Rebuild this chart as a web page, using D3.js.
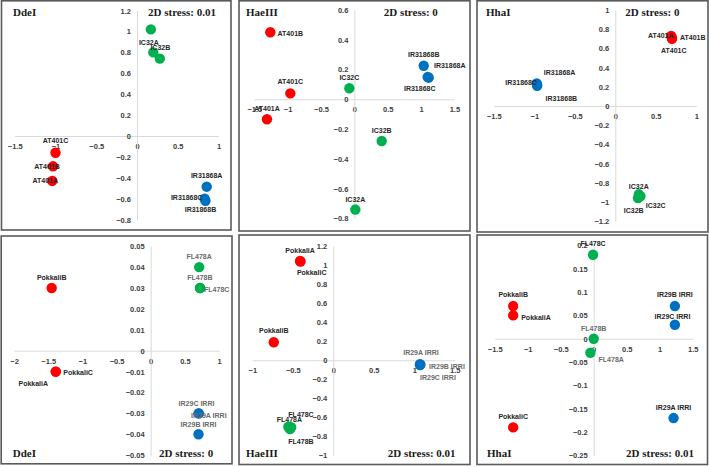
<!DOCTYPE html>
<html>
<head>
<meta charset="utf-8">
<script src="https://cdn.jsdelivr.net/npm/d3@7"></script>
<style>
  html, body { margin: 0; padding: 0; background: #fff; }
  svg { display: block; }
</style>
</head>
<body>
<svg id="chart" width="709" height="467"></svg>
<script>
// ---------------- DATA ----------------
const panelTitles = ["DdeI", "HaeIII", "HhaI", "DdeI", "HaeIII", "HhaI"];
const stressLabels = ["2D stress: 0.01", "2D stress: 0", "2D stress: 0", "2D stress: 0", "2D stress: 0.01", "2D stress: 0.01"];

const xTicks1 = [-1.5, -1, -0.5, 0, 0.5, 1];
const yTicks1 = [-0.8, -0.6, -0.4, -0.2, 0, 0.2, 0.4, 0.6, 0.8, 1, 1.2];
const xTicks2 = [-1.5, -1, -0.5, 0, 0.5, 1, 1.5];
const yTicks2 = [-0.8, -0.6, -0.4, -0.2, 0, 0.2, 0.4, 0.6];
const xTicks3 = [-1.5, -1, -0.5, 0, 0.5, 1];
const yTicks3 = [-1.2, -1, -0.8, -0.6, -0.4, -0.2, 0, 0.2, 0.4, 0.6, 0.8, 1];
const xTicks4 = [-2, -1.5, -1, -0.5, 0, 0.5, 1];
const yTicks4 = [-0.05, -0.04, -0.03, -0.02, -0.01, 0, 0.01, 0.02, 0.03, 0.04, 0.05];
const xTicks5 = [-1, -0.5, 0, 0.5, 1, 1.5];
const yTicks5 = [-1, -0.8, -0.6, -0.4, -0.2, 0, 0.2, 0.4, 0.6, 0.8, 1, 1.2];
const xTicks6 = [-1.5, -1, -0.5, 0, 0.5, 1, 1.5];
const yTicks6 = [-0.25, -0.2, -0.15, -0.1, -0.05, 0, 0.05, 0.1, 0.15, 0.2];

// points: [label, group, x, y]
const points1 = [
  ["IC32A", "g", 0.17, 1.02], ["IC32B", "g", 0.20, 0.80], ["IC32C", "g", 0.28, 0.74],
  ["AT401C", "r", -1.00, -0.16], ["AT401B", "r", -1.03, -0.29], ["AT401A", "r", -1.04, -0.43],
  ["IR31868A", "b", 0.855, -0.485], ["IR31868C", "b", 0.83, -0.60], ["IR31868B", "b", 0.84, -0.62]
];
const points2 = [
  ["AT401B", "r", -1.26, 0.45], ["AT401C", "r", -0.96, 0.04], ["AT401A", "r", -1.31, -0.134],
  ["IC32C", "g", -0.075, 0.074], ["IC32B", "g", 0.41, -0.28], ["IC32A", "g", 0.015, -0.74],
  ["IR31868B", "b", 1.04, 0.225], ["IR31868A", "b", 1.115, 0.145], ["IR31868C", "b", 1.10, 0.15]
];
const points3 = [
  ["AT401A", "r", 0.69, 0.73], ["AT401B", "r", 0.70, 0.71], ["AT401C", "r", 0.70, 0.70],
  ["IR31868A", "b", -0.97, 0.235], ["IR31868C", "b", -0.965, 0.22], ["IR31868B", "b", -0.965, 0.21],
  ["IC32A", "g", 0.29, -0.92], ["IC32C", "g", 0.31, -0.94], ["IC32B", "g", 0.28, -0.96]
];
const points4 = [
  ["PokkaliB", "r", -1.45, 0.03], ["PokkaliC", "r", -1.39, -0.01], ["PokkaliA", "r", -1.39, -0.01],
  ["FL478A", "g", 0.71, 0.04], ["FL478B", "g", 0.72, 0.03], ["FL478C", "g", 0.725, 0.03],
  ["IR29C IRRI", "b", 0.70, -0.03], ["IR29A IRRI", "b", 0.705, -0.03], ["IR29B IRRI", "b", 0.70, -0.04]
];
const points5 = [
  ["PokkaliA", "r", -0.41, 1.045], ["PokkaliC", "r", -0.405, 1.04], ["PokkaliB", "r", -0.735, 0.19],
  ["IR29A IRRI", "b", 1.07, -0.04], ["IR29B IRRI", "b", 1.075, -0.045], ["IR29C IRRI", "b", 1.07, -0.05],
  ["FL478A", "g", -0.555, -0.70], ["FL478C", "g", -0.52, -0.705], ["FL478B", "g", -0.535, -0.725]
];
const points6 = [
  ["FL478C", "g", -0.01, 0.18], ["FL478B", "g", 0, 0], ["FL478A", "g", -0.05, -0.03],
  ["PokkaliB", "r", -1.22, 0.07], ["PokkaliA", "r", -1.22, 0.05], ["PokkaliC", "r", -1.22, -0.19],
  ["IR29B IRRI", "b", 1.23, 0.07], ["IR29C IRRI", "b", 1.23, 0.03], ["IR29A IRRI", "b", 1.21, -0.17]
];

// ---------------- LAYOUT / STYLE ----------------
const groupColor = { r: "#FF0000", g: "#00B050", b: "#0070C0" };

// label offsets (label centre relative to point centre, px)
const labelLayout = [
  { "IC32A": [-2, 13], "IC32B": [7, -5], "IC32C": null, "AT401C": [0, -12], "AT401B": [-6, 0], "AT401A": [-7, 0],
    "IR31868A": [0, -11], "IR31868C": [-18, -1], "IR31868B": [-5, 9] },
  { "AT401B": [20, 1], "AT401C": [0, -12], "AT401A": [0, -10.5], "IC32C": [0, -11], "IC32B": [0, -11], "IC32A": [0, -10.5],
    "IR31868B": [0, -11.5], "IR31868A": [21, -12.7], "IR31868C": [-8, 12] },
  { "AT401A": [-10.4, 0], "AT401B": [20.8, 0], "AT401C": [1.7, 11.2], "IR31868A": [22.8, -10.7], "IR31868C": [-16, -2.2],
    "IR31868B": [24.2, 12.9], "IC32A": [0, -7.6], "IC32C": [15.3, 9.5], "IC32B": [-4.3, 12.5] },
  { "PokkaliB": [0, -11], "PokkaliC": [22.4, 0.4], "PokkaliA": [-22.5, 11.4], "FL478A": [0, -11], "FL478B": [0, -11],
    "FL478C": [16.5, 1.3], "IR29C IRRI": [-2, -10], "IR29A IRRI": [10, 2.5], "IR29B IRRI": [0, -10] },
  { "PokkaliA": [0, -10.7], "PokkaliC": [11.2, 11.2], "PokkaliB": [0, -11.3], "IR29A IRRI": [1, -11.4],
    "IR29B IRRI": [26.6, 2.4], "IR29C IRRI": [18, 12.6], "FL478A": [1, -7], "FL478C": [9.8, -12.6], "FL478B": [11, 12.8] },
  { "FL478C": [0, -11], "FL478B": [0, -10.7], "FL478A": [20.8, 7], "PokkaliB": [0, -11.3], "PokkaliA": [22.8, 1.6],
    "PokkaliC": [0, -11.4], "IR29B IRRI": [0, -11.3], "IR29C IRRI": [-2.4, -8], "IR29A IRRI": [0, -10.3] }
];
const grayLabels = [
  [], [], [],
  ["FL478A", "FL478B", "FL478C", "IR29C IRRI", "IR29A IRRI", "IR29B IRRI"],
  ["IR29A IRRI", "IR29B IRRI", "IR29C IRRI"],
  ["FL478B", "FL478A"]
];

const panels = [
  { frame: [1.5, 0.8, 231, 230],   x: [-1.5, 1],   xr: [14.75, 218.5], y: [-0.8, 1.2],   yr: [219.6, 10.6], xt: xTicks1, yt: yTicks1, pts: points1,
    title: [13, 16], stress: [148, 16] },
  { frame: [239, 0.8, 470, 231],   x: [-1.5, 1.5], xr: [254.3, 454.4], y: [-0.8, 0.6],   yr: [218.5, 9.9],  xt: xTicks2, yt: yTicks2, pts: points2,
    title: [246, 16], stress: [383.7, 16] },
  { frame: [477, 0.8, 708, 232],   x: [-1.5, 1],   xr: [493.8, 696.3], y: [-1.2, 1],     yr: [221.2, 10],   xt: xTicks3, yt: yTicks3, pts: points3,
    title: [486, 16], stress: [625.3, 16] },
  { frame: [1.2, 236, 232, 463.8], x: [-2, 1],     xr: [14.1, 219],    y: [-0.05, 0.05], yr: [455.2, 246.2], xt: xTicks4, yt: yTicks4, pts: points4,
    title: [12.7, 457], stress: [159, 457] },
  { frame: [239, 235, 470, 464.5], x: [-1, 1.5],   xr: [252.3, 454.8], y: [-1, 1.2],     yr: [455.3, 246.3], xt: xTicks5, yt: yTicks5, pts: points5,
    title: [246, 457], stress: [387.7, 457] },
  { frame: [477, 235, 707.5, 464.5], x: [-1.5, 1.5], xr: [494.7, 692.7], y: [-0.25, 0.2], yr: [455.4, 245.4], xt: xTicks6, yt: yTicks6, pts: points6,
    title: [487, 457], stress: [626, 457] }
];

// ---------------- DRAW ----------------
const svg = d3.select("#chart");
const fmt = d3.format("~g");
const sansBold = "'Liberation Sans', Arial, sans-serif";
const serif = "'Liberation Serif', 'Times New Roman', serif";

panels.forEach((p, i) => {
  const g = svg.append("g");
  const [fx1, fy1, fx2, fy2] = p.frame;
  g.append("rect")
    .attr("x", fx1).attr("y", fy1)
    .attr("width", fx2 - fx1).attr("height", fy2 - fy1)
    .attr("fill", "#fff").attr("stroke", "#5a5a5a").attr("stroke-width", 1.6);

  const xs = d3.scaleLinear().domain(p.x).range(p.xr);
  const ys = d3.scaleLinear().domain(p.y).range(p.yr);

  const xAxis = d3.axisBottom(xs).tickValues(p.xt).tickFormat(fmt).tickSize(0).tickPadding(7.5);
  const gx = g.append("g").attr("transform", `translate(0,${ys(0)})`).call(xAxis);
  const yAxis = d3.axisLeft(ys).tickValues(p.yt).tickFormat(fmt).tickSize(0).tickPadding(6);
  const gy = g.append("g").attr("transform", `translate(${xs(0)},0)`).call(yAxis);

  [gx, gy].forEach(ax => {
    ax.select(".domain").attr("stroke", "#d9d9d9").attr("stroke-width", 1);
    ax.selectAll("text")
      .attr("font-family", sansBold).attr("font-weight", "bold")
      .attr("font-size", 7.5).attr("fill", "#404040");
  });

  g.selectAll("circle.pt").data(p.pts).enter().append("circle")
    .attr("class", "pt")
    .attr("cx", d => xs(d[2])).attr("cy", d => ys(d[3]))
    .attr("r", 5.2)
    .attr("fill", d => groupColor[d[1]]);

  const lay = labelLayout[i];
  const gray = grayLabels[i];
  g.selectAll("text.lbl").data(p.pts.filter(d => lay[d[0]])).enter().append("text")
    .attr("class", "lbl")
    .attr("x", d => xs(d[2]) + lay[d[0]][0])
    .attr("y", d => ys(d[3]) + lay[d[0]][1])
    .attr("dy", "0.36em")
    .attr("text-anchor", "middle")
    .attr("font-family", sansBold).attr("font-weight", "bold").attr("font-size", 7)
    .attr("fill", d => gray.includes(d[0]) ? "#6b6b6b" : "#262626")
    .text(d => d[0]);

  g.append("text")
    .attr("x", p.title[0]).attr("y", p.title[1])
    .attr("font-family", serif).attr("font-weight", "bold").attr("font-size", 11)
    .attr("fill", "#1a1a1a")
    .text(panelTitles[i]);
  g.append("text")
    .attr("x", p.stress[0]).attr("y", p.stress[1])
    .attr("font-family", serif).attr("font-weight", "bold").attr("font-size", 11)
    .attr("fill", "#1a1a1a")
    .text(stressLabels[i]);
});
</script>
</body>
</html>
